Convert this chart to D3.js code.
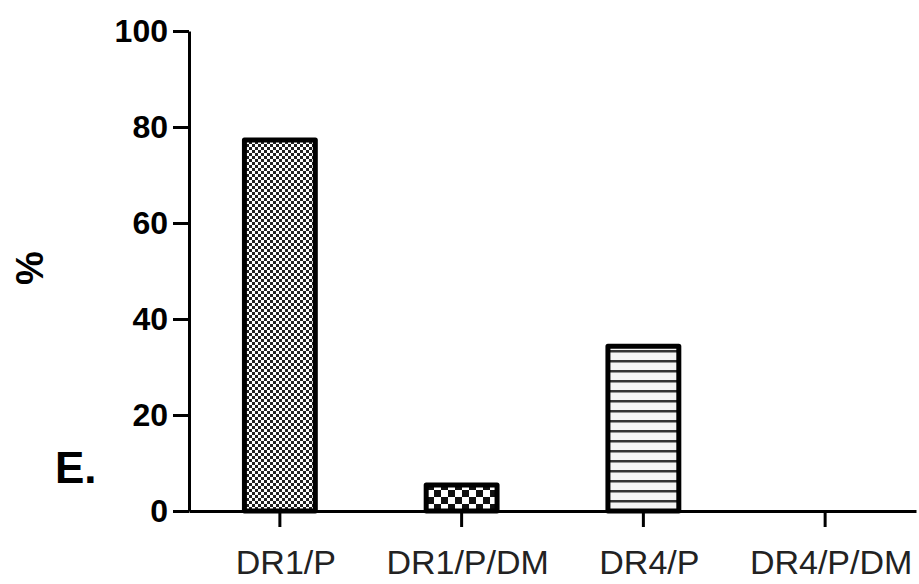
<!DOCTYPE html>
<html><head><meta charset="utf-8">
<script src="https://cdn.jsdelivr.net/npm/d3@7"></script>
<style>body{margin:0;background:#fff}</style>
</head><body>
<script>
const categories = ["DR1/P", "DR1/P/DM", "DR4/P", "DR4/P/DM"];
const values = [77.3, 5.4, 34.3, 0];
const patterns = ["fineCheck", "coarseCheck", "hLines", "none"];
const yTicks = [0, 20, 40, 60, 80, 100];

const W = 919, H = 584;
const FONT = "Liberation Sans, Arial, sans-serif";
const svg = d3.select("body").append("svg").attr("width", W).attr("height", H);
const defs = svg.append("defs");

const p1 = defs.append("pattern").attr("id","fineCheck").attr("patternUnits","userSpaceOnUse").attr("width",6).attr("height",6);
p1.append("rect").attr("width",6).attr("height",6).attr("fill","#fff");
p1.append("rect").attr("width",3).attr("height",3).attr("fill","#222");
p1.append("rect").attr("x",3).attr("y",3).attr("width",3).attr("height",3).attr("fill","#222");

const p2 = defs.append("pattern").attr("id","coarseCheck").attr("patternUnits","userSpaceOnUse").attr("width",14).attr("height",14);
p2.append("rect").attr("width",14).attr("height",14).attr("fill","#fff");
p2.append("rect").attr("width",7).attr("height",7).attr("fill","#111");
p2.append("rect").attr("x",7).attr("y",7).attr("width",7).attr("height",7).attr("fill","#111");

const p3 = defs.append("pattern").attr("id","hLines").attr("patternUnits","userSpaceOnUse").attr("width",10).attr("height",10);
p3.append("rect").attr("width",10).attr("height",10).attr("fill","#f4f4f4");
p3.append("rect").attr("y",0).attr("width",10).attr("height",2.5).attr("fill","#333");

const x = d3.scaleBand().domain(categories).range([189, 916]).paddingInner(0.61).paddingOuter(0.305);
const y = d3.scaleLinear().domain([0, 100]).range([511, 31]);

const g = svg.append("g");
g.selectAll("rect.bar").data(categories).join("rect")
  .attr("class","bar")
  .attr("x", d => x(d))
  .attr("y", (d,i) => y(values[i]))
  .attr("width", x.bandwidth())
  .attr("height", (d,i) => y(0) - y(values[i]))
  .attr("fill", (d,i) => patterns[i] === "none" ? "none" : `url(#${patterns[i]})`)
  .attr("stroke", (d,i) => values[i] > 0 ? "#000" : "none")
  .attr("stroke-width", 5)
  .attr("stroke-linejoin", "round");

const yAxis = svg.append("g").attr("transform","translate(189,0)")
  .call(d3.axisLeft(y).tickValues(yTicks).tickSize(16).tickSizeOuter(0).tickPadding(5));
yAxis.select(".domain").attr("stroke","#000").attr("stroke-width",3);
yAxis.selectAll(".tick line").attr("stroke","#000").attr("stroke-width",3);
yAxis.selectAll(".tick text").attr("font-family",FONT)
  .attr("font-weight","bold").attr("font-size",32).attr("fill","#000");

const xAxis = svg.append("g").attr("transform","translate(0,511)")
  .call(d3.axisBottom(x).tickSize(16).tickSizeOuter(0).tickPadding(23));
xAxis.select(".domain").attr("stroke","#000").attr("stroke-width",3);
xAxis.selectAll(".tick line").attr("stroke","#000").attr("stroke-width",3);
xAxis.selectAll(".tick text").attr("font-family",FONT)
  .attr("font-size",34).attr("fill","#222").attr("dx",6);

svg.append("text").attr("transform","translate(43,268) rotate(-90)")
  .attr("text-anchor","middle").attr("font-family",FONT)
  .attr("font-weight","bold").attr("font-size",38).text("%");

svg.append("text").attr("x",55).attr("y",483)
  .attr("font-family",FONT)
  .attr("font-weight","bold").attr("font-size",44).text("E.");
</script>
</body></html>
